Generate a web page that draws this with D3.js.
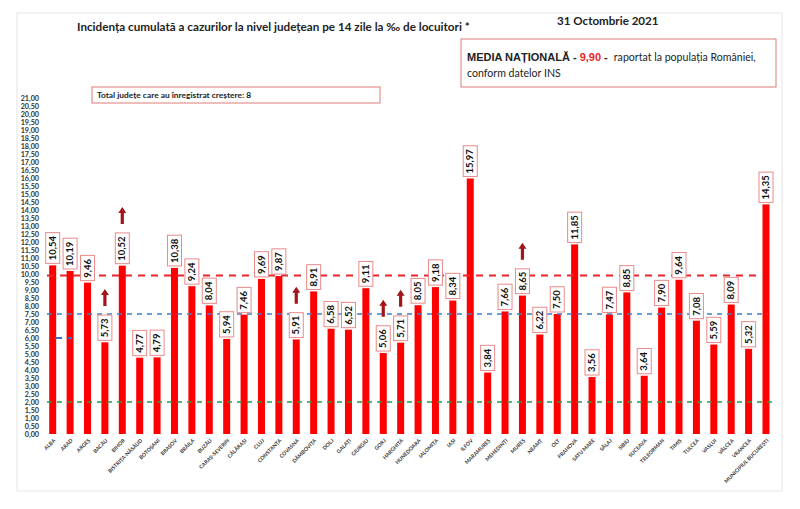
<!DOCTYPE html>
<html lang="ro">
<head>
    <meta charset="utf-8">
    <title>Incidența cumulată</title>
    <script src="https://d3js.org/d3.v7.min.js"></script>
    <style>
        body { margin: 0; background: #fff; }
        text { font-family: Lato, "Open Sans", sans-serif; }
    </style>
</head>
<body>

<script>
    const counties = ["ALBA", "ARAD", "ARGEȘ", "BACĂU", "BIHOR", "BISTRIȚA-NĂSĂUD", "BOTOȘANI",
        "BRAȘOV", "BRĂILA", "BUZĂU", "CARAȘ-SEVERIN", "CĂLĂRAȘI", "CLUJ", "CONSTANȚA", "COVASNA",
        "DÂMBOVIȚA", "DOLJ", "GALAȚI", "GIURGIU", "GORJ", "HARGHITA", "HUNEDOARA", "IALOMIȚA",
        "IAȘI", "ILFOV", "MARAMUREȘ", "MEHEDINȚI", "MUREȘ", "NEAMȚ", "OLT", "PRAHOVA", "SATU MARE",
        "SĂLAJ", "SIBIU", "SUCEAVA", "TELEORMAN", "TIMIȘ", "TULCEA", "VASLUI", "VÂLCEA", "VRANCEA",
        "MUNICIPIUL BUCUREȘTI"];

    const values = [10.54, 10.19, 9.46, 5.73, 10.52, 4.77, 4.79, 10.38, 9.24, 8.04, 5.94, 7.46,
        9.69, 9.87, 5.91, 8.91, 6.58, 6.52, 9.11, 5.06, 5.71, 8.05, 9.18, 8.34, 15.97, 3.84, 7.66,
        8.65, 6.22, 7.50, 11.85, 3.56, 7.47, 8.85, 3.64, 7.90, 9.64, 7.08, 5.59, 8.09, 5.32, 14.35];

    // counties marked with an increase arrow
    const rising = ["BACĂU", "BIHOR", "COVASNA", "GORJ", "HARGHITA", "MUREȘ"];

    const yTicks = d3.range(0, 21.001, 0.5);
    const nationalAvg = 9.90;
    const blueLevel = 7.5;
    const greenLevel = 2.0;
    const totalRising = 8;

    const W = 800, H = 509;
    const fmt = v => d3.format(".2f")(v).replace(".", ",");

    const svg = d3.select("body").append("svg").attr("width", W).attr("height", H);

    // frame
    svg.append("rect").attr("x", 17).attr("y", 13).attr("width", 765).attr("height", 478)
        .attr("fill", "none").attr("stroke", "#e6e6e6");

    const x = d3.scalePoint().domain(counties).range([52.7, 766]);
    const y = d3.scaleLinear().domain([0, 21]).range([434, 98]);
    const barW = 7;

    // y axis labels
    const yAxis = svg.append("g").attr("transform", "translate(39,0)")
        .call(d3.axisLeft(y).tickValues(yTicks).tickFormat(fmt).tickSize(0).tickPadding(0));
    yAxis.select(".domain").remove();
    yAxis.selectAll("text").attr("font-size", 7.2).attr("font-weight", "bold").attr("fill", "#333")
        .style("font-family", "Lato, sans-serif");

    // bars
    svg.append("g").selectAll("rect")
        .data(counties).enter()
        .append("rect")
        .attr("x", d => x(d) - barW / 2)
        .attr("y", (d, i) => y(values[i]))
        .attr("width", barW)
        .attr("height", (d, i) => y(0) - y(values[i]))
        .attr("fill", "#ff0000");

    // reference lines
    svg.append("line").attr("x1", 47).attr("x2", 760)
        .attr("y1", y(nationalAvg)).attr("y2", y(nationalAvg))
        .attr("stroke", "#e8252a").attr("stroke-width", 2).attr("stroke-dasharray", "7,6");
    svg.append("line").attr("x1", 47).attr("x2", 768)
        .attr("y1", y(blueLevel)).attr("y2", y(blueLevel))
        .attr("stroke", "#3d7fc9").attr("stroke-width", 1.3).attr("stroke-dasharray", "5,5");
    svg.append("line").attr("x1", 47).attr("x2", 776)
        .attr("y1", y(greenLevel)).attr("y2", y(greenLevel))
        .attr("stroke", "#1e9e4a").attr("stroke-width", 1.3).attr("stroke-dasharray", "5,5");
    svg.append("line").attr("x1", 55).attr("x2", 72)
        .attr("y1", y(6)).attr("y2", y(6))
        .attr("stroke", "#2f6fbf").attr("stroke-width", 2).attr("stroke-dasharray", "7,6");

    // value labels
    const lbl = svg.append("g").selectAll("g")
        .data(counties).enter()
        .append("g")
        .attr("transform", (d, i) => `translate(${x(d)},${y(values[i]) - 2}) rotate(-90)`);
    lbl.append("text")
        .attr("x", 3)
        .attr("y", 3.2)
        .attr("font-size", 9.5)
        .attr("font-weight", "bold")
        .attr("fill", "#111")
        .text((d, i) => fmt(values[i]));
    lbl.each(function () {
        const g = d3.select(this);
        const bb = g.select("text").node().getBBox();
        g.insert("rect", "text")
            .attr("x", 0).attr("y", -7)
            .attr("width", bb.width + 6).attr("height", 14)
            .attr("fill", "#fff").attr("stroke", "#e98a8a").attr("stroke-width", 1);
        g.attr("data-len", bb.width + 6);
    });

    // arrows
    svg.append("g").selectAll("path")
        .data(rising).enter()
        .append("path")
        .attr("transform", d => {
            const i = counties.indexOf(d);
            const len = +lbl.filter(c => c === d).attr("data-len");
            return `translate(${x(d)},${y(values[i]) - 2 - len - 9})`;
        })
        .attr("d", "M-1.6,0 L-1.6,-11 L-4,-11 L0,-17 L4,-11 L1.6,-11 L1.6,0 Z")
        .attr("fill", "#a3151a");

    // x labels
    svg.append("g").selectAll("text")
        .data(counties).enter()
        .append("text")
        .attr("transform", d => `translate(${x(d) + 3},${441}) rotate(-45)`)
        .attr("text-anchor", "end")
        .attr("font-size", 5.2)
        .attr("font-weight", "bold")
        .attr("fill", "#333")
        .text(d => d);

    // title
    svg.append("text").attr("x", 77).attr("y", 31)
        .attr("font-size", 11.7).attr("font-weight", "bold").attr("fill", "#222")
        .text("Incidența cumulată a cazurilor la nivel județean pe 14 zile la ‰ de locuitori *");
    svg.append("text").attr("x", 557).attr("y", 25)
        .attr("font-size", 11.6).attr("font-weight", "bold").attr("fill", "#222")
        .text("31 Octombrie 2021");

    // info boxes
    svg.append("rect").attr("x", 92).attr("y", 87).attr("width", 288).attr("height", 16)
        .attr("fill", "#fff").attr("stroke", "#e07b7b");
    svg.append("text").attr("x", 97).attr("y", 98)
        .attr("font-size", 8.4).attr("font-weight", "bold").attr("fill", "#222")
        .text(`Total județe care au înregistrat creștere:  ${totalRising}`);

    svg.append("rect").attr("x", 461).attr("y", 39).attr("width", 315).attr("height", 48)
        .attr("fill", "#fff").attr("stroke", "#e07b7b");
    const t1 = svg.append("text").attr("x", 467).attr("y", 61).attr("fill", "#222");
    t1.append("tspan").attr("font-size", 11).attr("font-weight", "bold")
        .style("font-family", "'Liberation Sans', Arial, sans-serif").text("MEDIA NAȚIONALĂ - ");
    t1.append("tspan").attr("font-size", 11).attr("font-weight", "bold").attr("fill", "#e8252a")
        .style("font-family", "'Liberation Sans', Arial, sans-serif").text(fmt(nationalAvg));
    t1.append("tspan").attr("font-size", 11).attr("font-weight", "bold")
        .style("font-family", "'Liberation Sans', Arial, sans-serif").text(" - ");
    t1.append("tspan").attr("font-size", 10.6).attr("dx", 3).text("raportat la populația României,");
    svg.append("text").attr("x", 467).attr("y", 77).attr("font-size", 10.6).attr("fill", "#222")
        .text("conform datelor INS");
</script>

</body>
</html>
